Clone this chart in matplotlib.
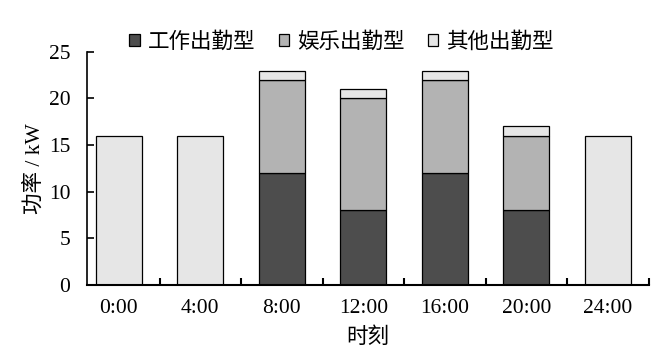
import matplotlib
matplotlib.use("Agg")
import matplotlib.pyplot as plt
import numpy as np

plt.rcParams['font.family'] = ['Liberation Serif', 'Noto Sans CJK SC']
plt.rcParams['axes.unicode_minus'] = False

categories = ['0:00', '4:00', '8:00', '12:00', '16:00', '20:00', '24:00']
work = [0, 0, 12, 8, 12, 8, 0]
leisure = [0, 0, 10, 12, 10, 8, 0]
other = [16, 16, 1, 1, 1, 1, 16]
series_names = ['工作出勤型', '娱乐出勤型', '其他出勤型']
colors = ['#4d4d4d', '#b3b3b3', '#e6e6e6']

fs = 15.5
fig = plt.figure(figsize=(6.64, 3.6), dpi=100)
ax = fig.add_axes([0.131, 0.208, 0.846, 0.648])

x = np.arange(len(categories))
w = 0.565
b1 = np.array(work, dtype=float)
b2 = b1 + np.array(leisure, dtype=float)
ax.bar(x, work, w, color=colors[0], edgecolor='black', linewidth=0.9, label=series_names[0])
ax.bar(x, leisure, w, bottom=b1, color=colors[1], edgecolor='black', linewidth=0.9, label=series_names[1])
ax.bar(x, other, w, bottom=b2, color=colors[2], edgecolor='black', linewidth=0.9, label=series_names[2])

ax.set_xlim(-0.39, 6.5)
ax.set_ylim(0, 25)
ax.set_yticks([0, 5, 10, 15, 20, 25])
ax.set_xticks(x)
ax.set_xticklabels(categories)
ax.set_xticks(np.arange(0.5, 7, 1.0), minor=True)
ax.tick_params(axis='x', which='major', length=0, pad=10, labelsize=fs)
ax.tick_params(axis='x', which='minor', direction='in', length=5, width=1.5)
ax.tick_params(axis='y', direction='in', length=5, width=1.2, labelsize=fs, pad=12)
for s in ['top', 'right']:
    ax.spines[s].set_visible(False)
ax.spines['left'].set_linewidth(1.2)
ax.spines['bottom'].set_linewidth(1.5)

ax.set_ylabel('功率 / kW', fontsize=fs, labelpad=3)
ax.set_xlabel('时刻', fontsize=fs, labelpad=7)

leg = ax.legend(loc='center', bbox_to_anchor=(0.453, 1.04), ncol=3, frameon=False,
                fontsize=fs, handlelength=0.47, handleheight=0.47, handletextpad=0.37,
                columnspacing=1.1, borderaxespad=0, borderpad=0)

fig.savefig('out.png', dpi=100)
